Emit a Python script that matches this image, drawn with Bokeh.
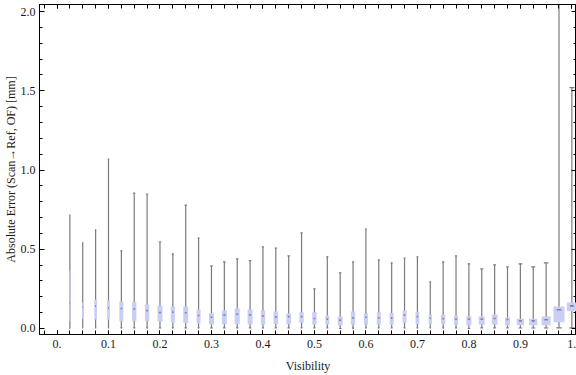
import numpy as np
from bokeh.plotting import figure
from bokeh.models import Range1d, LinearAxis, FixedTicker, ColumnDataSource
from bokeh.embed import file_html
from bokeh.resources import INLINE

# ---- data (Visibility bins, box-whisker stats in mm) ----
visibility = [0.025, 0.05, 0.075, 0.1, 0.125, 0.15, 0.175, 0.2, 0.225, 0.25,
              0.275, 0.3, 0.325, 0.35, 0.375, 0.4, 0.425, 0.45, 0.475, 0.5,
              0.525, 0.55, 0.575, 0.6, 0.625, 0.65, 0.675, 0.7, 0.725, 0.75,
              0.775, 0.8, 0.825, 0.85, 0.875, 0.9, 0.925, 0.95, 0.975, 1.0]
whisker_low = [0.0, 0.004, 0.004, 0.004, 0.004, 0.004, 0.004, 0.004, 0.004, 0.004,
               0.004, 0.004, 0.004, 0.004, 0.004, 0.004, 0.004, 0.004, 0.004, 0.004,
               0.004, 0.0, 0.002, 0.004, 0.004, 0.004, 0.004, 0.004, 0.004, 0.004,
               0.004, 0.0, 0.004, 0.004, 0.004, 0.003, 0.003, 0.003, 0.004, 0.004]
quartile1 = [0.046, 0.062, 0.057, 0.057, 0.046, 0.046, 0.046, 0.046, 0.036, 0.034,
             0.032, 0.025, 0.029, 0.029, 0.027, 0.025, 0.029, 0.027, 0.036, 0.025,
             0.025, 0.021, 0.025, 0.025, 0.025, 0.023, 0.034, 0.029, 0.027, 0.027,
             0.023, 0.021, 0.025, 0.025, 0.021, 0.021, 0.021, 0.021, 0.040, 0.109]
median = [0.160, 0.135, 0.141, 0.130, 0.126, 0.124, 0.113, 0.101, 0.103, 0.099,
          0.082, 0.071, 0.086, 0.090, 0.086, 0.078, 0.073, 0.075, 0.075, 0.063,
          0.059, 0.053, 0.067, 0.071, 0.067, 0.067, 0.084, 0.075, 0.065, 0.061,
          0.059, 0.059, 0.059, 0.063, 0.057, 0.048, 0.048, 0.055, 0.118, 0.143]
quartile3 = [0.367, 0.162, 0.183, 0.177, 0.170, 0.166, 0.151, 0.145, 0.139, 0.139,
             0.120, 0.097, 0.113, 0.126, 0.120, 0.113, 0.107, 0.095, 0.103, 0.103,
             0.082, 0.076, 0.107, 0.095, 0.103, 0.097, 0.113, 0.107, 0.088, 0.086,
             0.082, 0.076, 0.076, 0.088, 0.069, 0.061, 0.061, 0.076, 0.139, 0.164]
whisker_high = [0.718, 0.542, 0.622, 1.069, 0.490, 0.855, 0.849, 0.546, 0.471, 0.779,
                0.571, 0.395, 0.420, 0.439, 0.428, 0.515, 0.508, 0.458, 0.603, 0.250,
                0.452, 0.351, 0.420, 0.628, 0.433, 0.414, 0.445, 0.452, 0.294, 0.420,
                0.458, 0.408, 0.376, 0.401, 0.389, 0.408, 0.389, 0.414, 2.300, 1.520]
# box widths (in Visibility units) vary per bin in the reference
box_width = [0.0020, 0.0026, 0.0052, 0.0052, 0.0078, 0.0084, 0.0084, 0.0097, 0.0078, 0.0097,
             0.0078, 0.0097, 0.0097, 0.0097, 0.0097, 0.0084, 0.0091, 0.0091, 0.0084, 0.0084,
             0.0078, 0.0097, 0.0084, 0.0078, 0.0078, 0.0078, 0.0078, 0.0072, 0.0064, 0.0084,
             0.0078, 0.0097, 0.0117, 0.0111, 0.0097, 0.0142, 0.0155, 0.0175, 0.0214, 0.0194]

x_tick_values = [0.0, 0.1, 0.2, 0.3, 0.4, 0.5, 0.6, 0.7, 0.8, 0.9, 1.0]
x_tick_labels = ["0.", "0.1", "0.2", "0.3", "0.4", "0.5", "0.6", "0.7", "0.8", "0.9", "1."]
x_minor_values = [round(0.025 * k, 3) for k in range(-1, 42)]
y_tick_values = [0.0, 0.5, 1.0, 1.5, 2.0]
y_tick_labels = ["0.0", "0.5", "1.0", "1.5", "2.0"]
y_minor_values = [round(0.1 * k, 1) for k in range(0, 21)]

# ---- build ----
x = np.array(visibility)
w = np.array(box_width)
src = ColumnDataSource(dict(
    x=x, lo=whisker_low, q1=quartile1, med=median, q3=quartile3, hi=whisker_high, w=w,
    cap_l=x - 0.25 * w, cap_r=x + 0.25 * w,
    med_l=x - 0.2 * w, med_r=x + 0.2 * w,
))

FONT = "Liberation Serif"
TXT = "#1a1a1a"

p = figure(width=576, height=375, output_backend="svg", toolbar_location=None,
           x_range=Range1d(-0.034, 1.009), y_range=Range1d(-0.038, 2.045),
           x_axis_label="Visibility",
           y_axis_label="Absolute Error (Scan\u2192Ref, OF) [mm]",
           min_border_left=0, min_border_right=0, min_border_top=4, min_border_bottom=40)
p.xgrid.visible = False
p.ygrid.visible = False
p.outline_line_color = "black"
p.background_fill_color = "white"

WH = "#7b7b7b"
p.segment(x0="x", y0="lo", x1="x", y1="hi", source=src, line_color=WH, line_width=1.2)
p.segment(x0="cap_l", y0="hi", x1="cap_r", y1="hi", source=src, line_color=WH, line_width=1.2)
p.segment(x0="cap_l", y0="lo", x1="cap_r", y1="lo", source=src, line_color=WH, line_width=1.2)
p.vbar(x="x", width="w", bottom="q1", top="q3", source=src,
       fill_color="#c9cef5", line_color=None)
p.segment(x0="med_l", y0="med", x1="med_r", y1="med", source=src,
          line_color="#85859a", line_width=1.6)


def style_axis(ax, ticks, minors, labels, major_in, minor_in, show_labels):
    ax.ticker = FixedTicker(ticks=ticks, minor_ticks=minors)
    ax.major_tick_in = major_in
    ax.major_tick_out = 0
    ax.minor_tick_in = minor_in
    ax.minor_tick_out = 0
    ax.axis_line_color = "black"
    ax.major_tick_line_color = "black"
    ax.minor_tick_line_color = "black"
    if show_labels:
        ax.major_label_overrides = dict(zip(ticks, labels))
        ax.major_label_text_font = FONT
        ax.major_label_text_font_size = "12px"
        ax.major_label_text_color = TXT
        ax.axis_label_text_font = FONT
        ax.axis_label_text_font_size = "12px"
        ax.axis_label_text_font_style = "normal"
        ax.axis_label_text_color = TXT
    else:
        ax.major_label_text_font_size = "0px"
        ax.major_label_text_color = None
        ax.major_label_standoff = 0


xb = p.xaxis[0]
style_axis(xb, x_tick_values, x_minor_values, x_tick_labels, 4, 4, True)
xb.major_label_standoff = 5
xb.axis_label_standoff = 8

yl = p.yaxis[0]
style_axis(yl, y_tick_values, y_minor_values, y_tick_labels, 5, 3, True)
yl.major_label_standoff = 4
yl.axis_label_standoff = 0

top = LinearAxis()
style_axis(top, x_tick_values, x_minor_values, x_tick_labels, 4, 4, False)
p.add_layout(top, "above")

right = LinearAxis()
style_axis(right, y_tick_values, y_minor_values, y_tick_labels, 5, 3, False)
p.add_layout(right, "right")

open("out.html", "w").write(file_html(p, INLINE))
